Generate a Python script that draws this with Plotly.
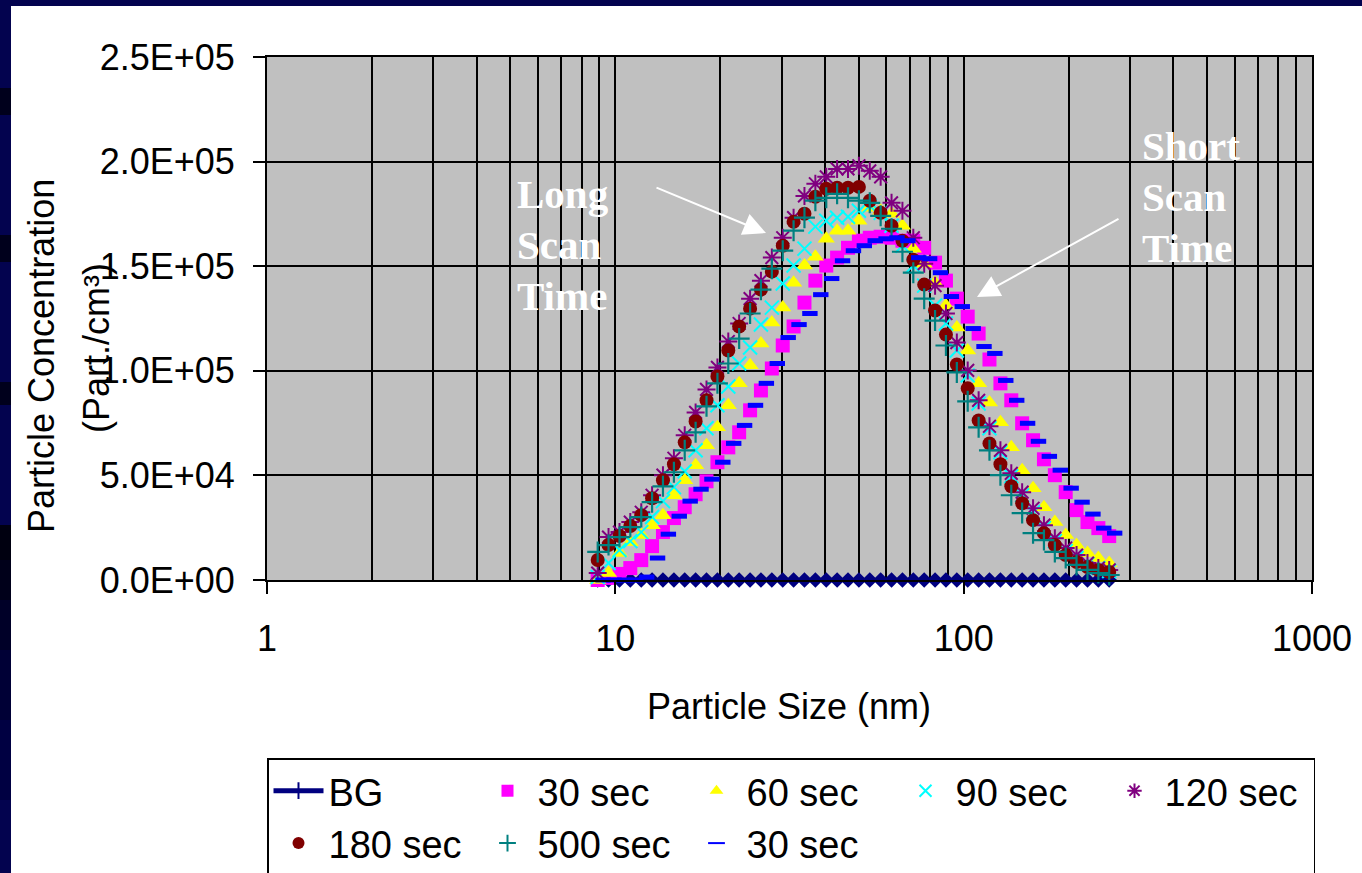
import plotly.graph_objects as go

# ---------------- data ----------------
sizes = [8.90, 9.56, 10.28, 11.04, 11.87, 12.75, 13.70, 14.73, 15.82, 17.00,
         18.27, 19.64, 21.10, 22.67, 24.37, 26.18, 28.14, 30.24, 32.49, 34.91,
         37.52, 40.32, 43.32, 46.55, 50.03, 53.76, 57.77, 62.08, 66.71, 71.68,
         77.03, 82.77, 88.95, 95.58, 102.7, 110.4, 118.6, 127.5, 137.0, 147.2,
         158.2, 170.0, 182.7, 196.3, 210.9, 226.7, 243.6, 261.7]
sizes_30b = [9.22, 9.91, 10.65, 11.44, 12.30, 13.22, 14.20, 15.26, 16.40, 17.62,
             18.94, 20.35, 21.87, 23.50, 25.26, 27.14, 29.17, 31.35, 33.68, 36.19,
             38.89, 41.79, 44.91, 48.26, 51.86, 55.73, 59.88, 64.35, 69.15, 74.31,
             79.85, 85.80, 92.20, 99.08, 106.5, 114.4, 122.9, 132.1, 142.0, 152.6,
             164.0, 176.2, 189.4, 203.5, 218.7, 235.0, 252.5, 271.3]

bg = [0, 0, 0, 0, 0, 0, 0, 0, 0, 0, 0, 0, 0, 0, 0, 0, 0, 0, 0, 0, 0, 0, 0, 0,
      0, 0, 0, 0, 0, 0, 0, 0, 0, 0, 0, 0, 0, 0, 0, 0, 0, 0, 0, 0, 0, 0, 0, 0]
s30 = [0, 1000, 2900, 5700, 9500, 16200, 22900, 29600, 34800, 41000,
       47200, 56300, 63400, 70600, 81100, 90600, 101100, 112100, 121200, 132600,
       143100, 150300, 154100, 158800, 162200, 163600, 164100, 163600, 162200, 162200,
       158800, 151700, 143100, 134500, 125900, 117800, 105400, 94000, 85900, 74900,
       66800, 57700, 50100, 42000, 33400, 27700, 24800, 21000]
s60 = [0, 3300, 12900, 18100, 21500, 26200, 31000, 40500, 47700, 54900,
       64400, 73000, 83500, 94000, 102600, 113000, 123100, 130200, 142100, 150300,
       154500, 163100, 167000, 167000, 171700, 177900, 176500, 175100, 169300, 158400,
       151200, 142100, 131200, 120700, 109700, 94000, 84900, 75400, 63400, 52500,
       43900, 34800, 27700, 21500, 16700, 12900, 10500, 8100]
s90 = [1400, 8100, 14300, 18600, 22900, 30100, 37700, 44400, 52000, 62000,
       72500, 83500, 92500, 103500, 111100, 122100, 130200, 141700, 150300, 158400,
       168900, 171700, 173200, 173600, 176500, 178900, 175500, 169300, 159800, 150300,
       140700, 131200, 122600, 109700, 97800, 84400, 72500, 61100, 49600, 40500,
       32400, 24800, 18600, 13800, 10500, 7600, 5700, 4300]
s120 = [3300, 20500, 22900, 27700, 32400, 40500, 50100, 58200, 69200, 80100,
        91100, 101600, 114000, 122600, 134500, 143100, 154100, 163600, 173200, 183600,
        189400, 192700, 196500, 196500, 198000, 195600, 192700, 180300, 176500, 163600,
        151200, 140700, 127400, 113500, 100200, 85900, 73500, 62000, 51000, 42000,
        34300, 26200, 20000, 15300, 11900, 8100, 5700, 4800]
s180 = [9540, 16700, 21000, 25800, 31000, 39100, 47700, 55300, 65800, 75800,
        85900, 97300, 109700, 121200, 129700, 138800, 147400, 159800, 171200, 175100,
        183200, 187000, 187500, 187500, 187900, 181300, 175500, 169300, 162200, 153100,
        141200, 128800, 117300, 103000, 91600, 76300, 65300, 55300, 44800, 36700,
        28600, 22400, 16700, 11900, 8600, 6200, 4800, 3800]
s500 = [13400, 16700, 20500, 25300, 30100, 37200, 44800, 51500, 62000, 70600,
        83000, 94000, 103500, 115400, 127400, 138800, 148800, 157400, 167000, 173200,
        181300, 182700, 184600, 182700, 181300, 180300, 174100, 167900, 156900, 146900,
        134500, 124000, 112100, 99200, 85400, 73000, 62000, 50100, 40500, 32000,
        22400, 19100, 13400, 10500, 7200, 4800, 3300, 2400]
s30b = [0, 0, 0, 0, 1400, 10500, 21900, 30500, 37700, 43400,
        48200, 56300, 65300, 73900, 83500, 94000, 103500, 115900, 122100, 127400,
        136400, 144100, 152600, 157400, 159800, 162200, 163100, 163600, 162200, 154100,
        153600, 146900, 135500, 130700, 120200, 111600, 108300, 95400, 85900, 74900,
        66300, 59100, 52500, 43900, 37200, 31500, 24800, 22400]

x_tickvals = [1, 10, 100, 1000]
x_ticktext = ["1", "10", "100", "1000"]
y_tickvals = [0, 50000, 100000, 150000, 200000, 250000]
y_ticktext = ["0.0E+00", "5.0E+04", "1.0E+05", "1.5E+05", "2.0E+05", "2.5E+05"]

# ---------------- geometry helpers (pixels -> paper) ----------------
W, H = 1362, 873
L, R, T, B = 267, 1312, 57, 580


def px(x):
    return (x - L) / (R - L)


def py(y):
    return (B - y) / (B - T)


FONT = "Liberation Sans, Arial, sans-serif"
SERIF = "Liberation Serif, Times New Roman, serif"
FS = 36

fig = go.Figure()

# legend-only entry for BG (line with small vertical tick as in the reference legend)
fig.add_trace(go.Scatter(x=[None], y=[None], mode="lines+markers", name="BG",
                         line=dict(color="#000080", width=2),
                         marker=dict(symbol="line-ns", size=12, color="#000080",
                                     line=dict(color="#000080", width=2))))
fig.add_trace(go.Scatter(x=sizes, y=bg, mode="lines+markers", name="BG", showlegend=False,
                         line=dict(color="#000080", width=1.5),
                         marker=dict(symbol="diamond", size=12, color="#000080",
                                     line=dict(width=0)), cliponaxis=False))


def mk(x, y, name, symbol, size, color, lw=0):
    fig.add_trace(go.Scatter(x=x, y=y, mode="markers", name=name, cliponaxis=False,
                             marker=dict(symbol=symbol, size=size, color=color,
                                         line=dict(color=color, width=lw))))


mk(sizes, s30, "30 sec", "square", 14, "#FF00FF")
mk(sizes, s60, "60 sec", "triangle-up", 15, "#FFFF00")
mk(sizes, s90, "90 sec", "x-thin", 14, "#00FFFF", 2)
mk(sizes, s120, "120 sec", "asterisk", 15, "#800080", 2)
mk(sizes, s180, "180 sec", "circle", 14, "#800000")
mk(sizes, s500, "500 sec", "cross-thin", 15, "#008080", 2.2)
mk(sizes_30b, s30b, "30 sec", "line-ew", 11, "#0000FF", 5)

minor_vals = [m * d for d in (1, 10, 100) for m in range(2, 10)]

fig.update_xaxes(type="log", range=[0, 3], tickmode="array", tickvals=x_tickvals,
                 ticktext=x_ticktext, ticks="outside", ticklen=12, tickwidth=2,
                 tickcolor="black", showgrid=True, gridcolor="black", gridwidth=2,
                 showline=True, linecolor="black", linewidth=2, mirror=True,
                 zeroline=False, ticklabelstandoff=14,
                 tickfont=dict(family=FONT, size=FS, color="black"),
                 minor=dict(tickmode="array", tickvals=minor_vals, showgrid=True,
                            gridcolor="black", gridwidth=2, ticks=""))
fig.update_yaxes(range=[0, 250000], tickmode="array", tickvals=y_tickvals,
                 ticktext=y_ticktext, ticks="outside", ticklen=12, tickwidth=2,
                 tickcolor="black", showgrid=True, gridcolor="black", gridwidth=2,
                 showline=True, linecolor="black", linewidth=2, mirror=True,
                 zeroline=False, ticklabelstandoff=11,
                 tickfont=dict(family=FONT, size=FS, color="black"))

annotations = [
    dict(text="Particle Concentration", x=px(41), y=py(356), textangle=-90),
    dict(text="(Part./cm³)", x=px(97), y=py(348), textangle=-90),
    dict(text="Particle Size (nm)", x=px(789), y=py(706)),
]
annos = []
for a in annotations:
    d = dict(xref="paper", yref="paper", showarrow=False, xanchor="center", yanchor="middle",
             font=dict(family=FONT, size=FS, color="black"))
    d.update(a)
    annos.append(d)

for txt, xx, yy in [("Long", 515, 194), ("Scan", 515, 245), ("Time", 515, 296),
                    ("Short", 1140, 146), ("Scan", 1140, 197), ("Time", 1140, 248)]:
    annos.append(dict(text="<b>" + txt + "</b>", xref="paper", yref="paper", x=px(xx), y=py(yy),
                      xanchor="left", yanchor="middle", showarrow=False,
                      font=dict(family=SERIF, size=41, color="white")))

for tip, tail in [((766, 233), (655, 187)), ((977, 297), (1120, 218))]:
    annos.append(dict(text="", xref="paper", yref="paper", x=px(tip[0]), y=py(tip[1]),
                      ax=tail[0] - tip[0], ay=tail[1] - tip[1], showarrow=True,
                      arrowhead=2, arrowsize=2.25, arrowwidth=2, arrowcolor="white"))

# navy slide frame
NAVY = "#03034F"
DARK = "#00001C"
shapes = [
    dict(type="rect", xref="paper", yref="paper", x0=px(0), x1=px(W), y0=py(6), y1=py(0),
         fillcolor=NAVY, line=dict(width=0), layer="above"),
    dict(type="rect", xref="paper", yref="paper", x0=px(0), x1=px(11), y0=py(H), y1=py(0),
         fillcolor=NAVY, line=dict(width=0), layer="above"),
]
for y0, y1, c in [(88, 115, DARK), (235, 262, DARK), (382, 405, DARK), (525, 560, "#000010"),
                  (560, 600, "#00001A"), (600, 650, "#000028"), (650, 720, "#000036"),
                  (720, 800, "#000042")]:
    shapes.append(dict(type="rect", xref="paper", yref="paper", x0=px(0), x1=px(11),
                       y0=py(y1), y1=py(y0), fillcolor=c, line=dict(width=0), layer="above"))

fig.update_layout(
    width=W, height=H,
    margin=dict(l=L, r=W - R, t=T, b=H - B, autoexpand=False),
    paper_bgcolor="white", plot_bgcolor="#C0C0C0",
    font=dict(family=FONT, size=FS, color="black"),
    showlegend=True,
    legend=dict(orientation="h", x=0, xanchor="left", y=py(758), yanchor="top",
                bordercolor="black", borderwidth=1.5, bgcolor="white",
                entrywidth=144, entrywidthmode="pixels", itemsizing="constant",
                itemwidth=50,
                traceorder="normal", font=dict(family=FONT, size=38, color="black")),
    annotations=annos,
    shapes=shapes,
)

fig.write_html("out.html", config={"displayModeBar": False},
               post_script="document.body.style.margin='0px';"
                           "document.body.style.overflow='hidden';")
